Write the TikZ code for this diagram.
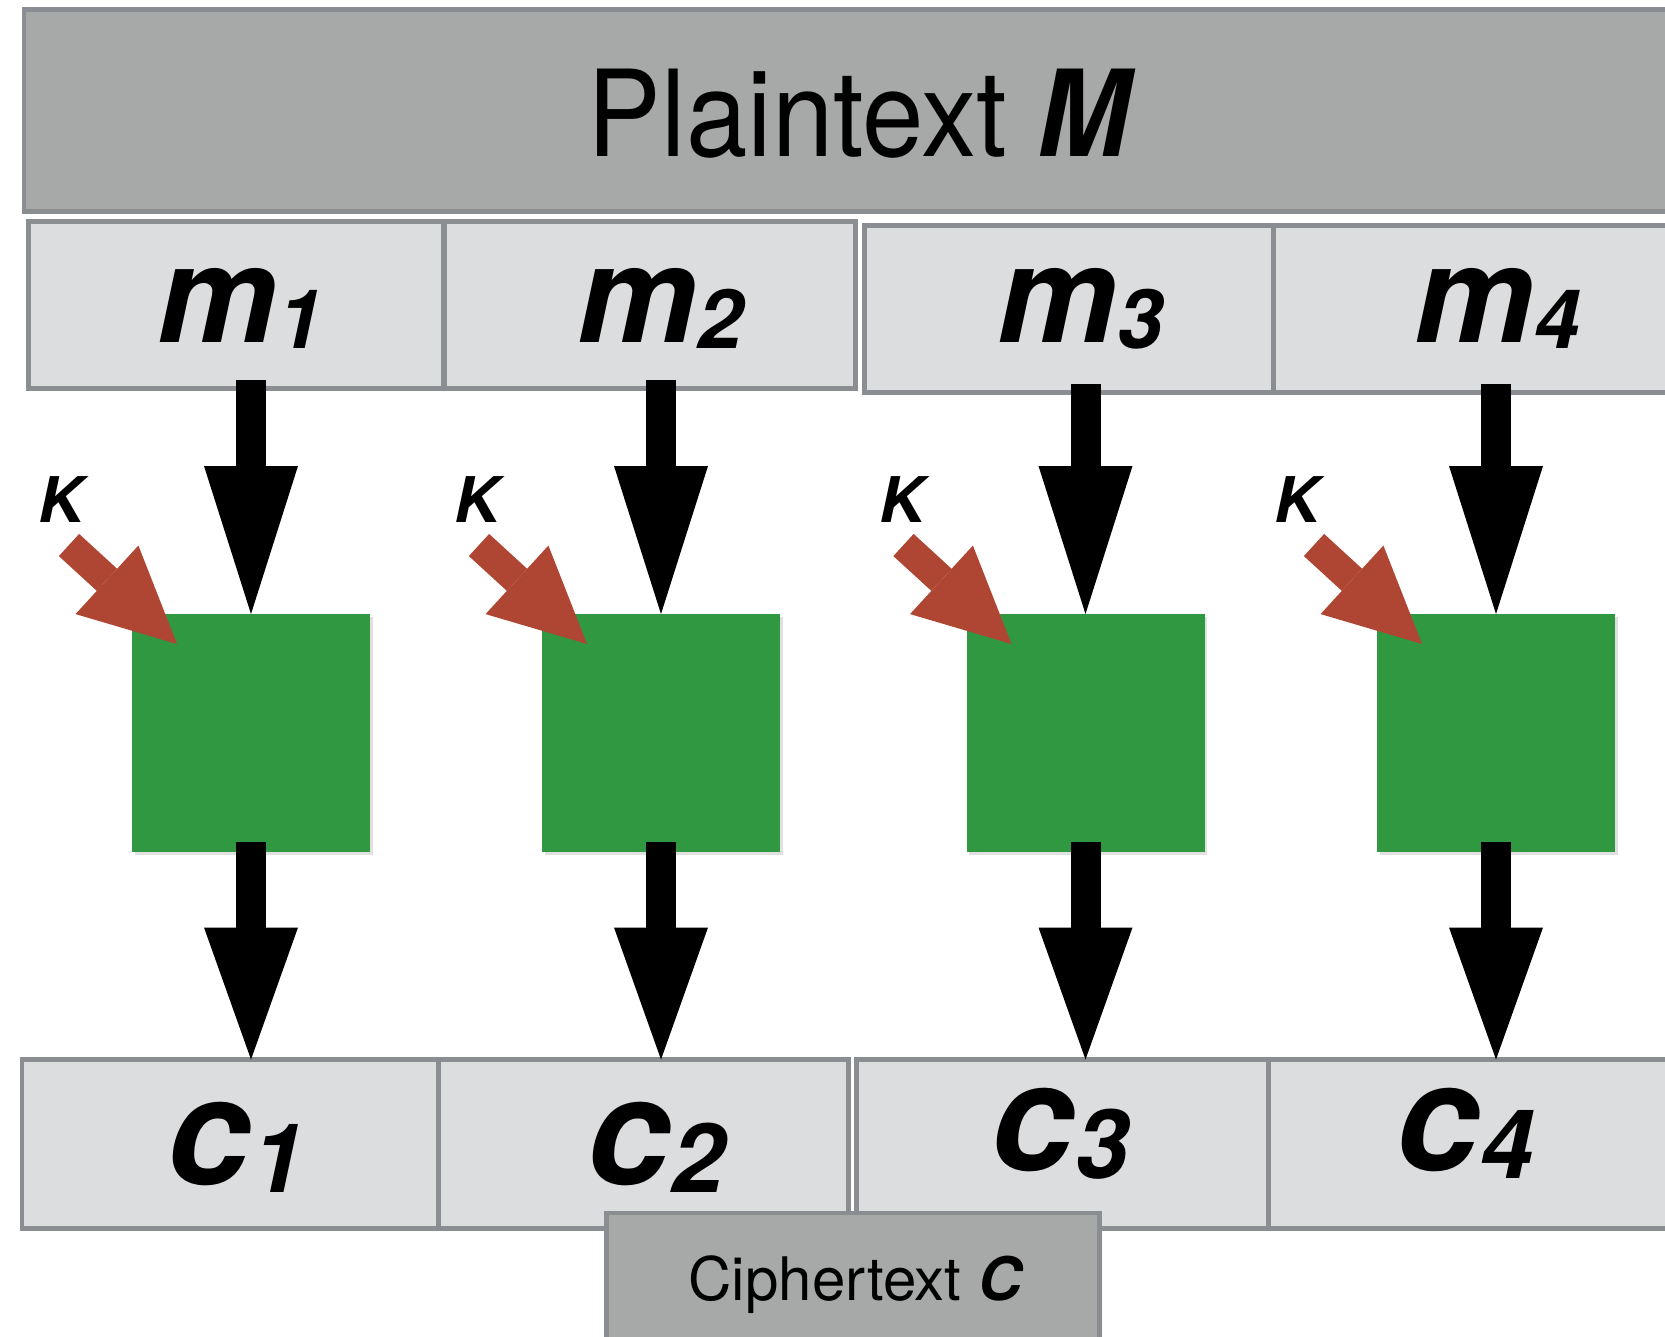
\documentclass[tikz,border=0pt]{standalone}
\usepackage{fontspec}
\setmainfont{TeX Gyre Heros}
\usetikzlibrary{arrows.meta,calc,shadows}
\definecolor{edgegray}{HTML}{8A8D91}
\definecolor{darkfill}{HTML}{A6A9A8}
\definecolor{lightfill}{HTML}{DCDDDF}
\definecolor{encgreen}{HTML}{2F9841}
\definecolor{keyred}{HTML}{AF4533}
\newcommand\msub[1]{\raisebox{-6pt}{\fontsize{82}{82}\selectfont #1}}
\newcommand\csub[1]{\raisebox{-8pt}{\fontsize{96}{96}\selectfont #1}}
\tikzset{
  blockbox/.style={draw=edgegray, line width=4.5pt, inner sep=0pt, outer sep=0pt},
  barbox/.style={blockbox, fill=darkfill},
  partbox/.style={blockbox, fill=lightfill},
  encbox/.style={fill=encgreen, inner sep=0pt, outer sep=0pt, minimum width=238pt, minimum height=238pt,
    drop shadow={shadow xshift=2.5pt, shadow yshift=-2.5pt, opacity=0.12, fill=black}},
  mlab/.style={inner sep=0pt, anchor=base, font=\fontsize{135}{140}\selectfont\bfseries\itshape},
  clab/.style={inner sep=0pt, anchor=base, font=\fontsize{150}{160}\selectfont\bfseries\itshape},
  klab/.style={inner sep=0pt, font=\fontsize{63}{70}\selectfont\bfseries\itshape},
  toparr/.style={line width=30pt, line cap=butt, -{Triangle[width=94pt,length=148pt,line width=0pt]}},
  botarr/.style={line width=30pt, line cap=butt, -{Triangle[width=94pt,length=132pt,line width=0pt]}},
  keyarr/.style={keyred, line width=30pt, line cap=butt, -{Triangle[width=93pt,length=95pt,line width=0pt]}}
}
\begin{document}
\begin{tikzpicture}[x=1pt,y=-1pt]
\useasboundingbox (0,0) rectangle (1665,1336);
\fill[white] (0,0) rectangle (1665,1336);

% plaintext bar
\node[barbox, minimum width=1656pt, minimum height=202pt] (ptbar) at (852,110.5) {};
\node[inner sep=0pt, anchor=base, font=\fontsize{120}{130}\selectfont] (pt) at (862,156)
  {\scalebox{0.92}[1]{Plaintext \textbf{\textit{M}}}};

% plaintext blocks
\node[partbox, minimum width=415pt, minimum height=167pt] (m1) at (236,305) {};
\node[partbox, minimum width=411pt, minimum height=167pt] (m2) at (650,305) {};
\node[partbox, minimum width=409pt, minimum height=167pt] (m3) at (1069,309) {};
\node[partbox, minimum width=416pt, minimum height=167pt] (m4) at (1482,309) {};

% ciphertext blocks
\node[partbox, minimum width=416pt, minimum height=169pt] (c1) at (230,1144) {};
\node[partbox, minimum width=410pt, minimum height=169pt] (c2) at (643.5,1144) {};
\node[partbox, minimum width=412pt, minimum height=169pt] (c3) at (1062.5,1144) {};
\node[partbox, minimum width=421pt, minimum height=169pt] (c4) at (1479.5,1144) {};

% labels
\node[mlab] (tm1) at (240,342) {m\msub{1}};
\node[mlab] (tm2) at (660,342) {m\msub{2}};
\node[mlab] (tm3) at (1080,342) {m\msub{3}};
\node[mlab] (tm4) at (1497,342) {m\msub{4}};

\node[clab] (tc1) at (236,1184) {c\csub{1}};
\node[clab] (tc2) at (656,1184) {c\csub{2}};
\node[clab] (tc3) at (1060,1170) {c\csub{3}};
\node[clab] (tc4) at (1465,1170) {c\csub{4}};

% encryption boxes
\node[encbox] (g1) at (251,733) {};
\node[encbox] (g2) at (661,733) {};
\node[encbox] (g3) at (1085.5,733) {};
\node[encbox] (g4) at (1496,733) {};

% key labels and arrows
\node[klab] (k1) at (61,500) {K};
\node[klab] (k2) at (477,500) {K};
\node[klab] (k3) at (902,500) {K};
\node[klab] (k4) at (1297,500) {K};

\foreach \g in {g1,g2,g3,g4}{
  \draw[keyarr] ($(\g.north west)+(-63,-69)$) -- ($(\g.north west)+(45,30)$);
}

% data-flow arrows
\foreach \m/\g/\c in {m1/g1/c1, m2/g2/c2, m3/g3/c3, m4/g4/c4}{
  \draw[toparr] ($(\g.north |- \m.south)+(0,-9)$) -- (\g.north);
  \draw[botarr] ($(\g.south)+(0,-10)$) -- (\g.south |- \c.north);
}

% ciphertext bar
\node[barbox, minimum width=493pt, minimum height=140pt] (ctbar) at (853,1283) {};
\node[inner sep=0pt, anchor=base, font=\fontsize{60}{66}\selectfont] (ct) at (856,1300)
  {Ciphertext \textbf{\textit{C}}};
\end{tikzpicture}
\end{document}
